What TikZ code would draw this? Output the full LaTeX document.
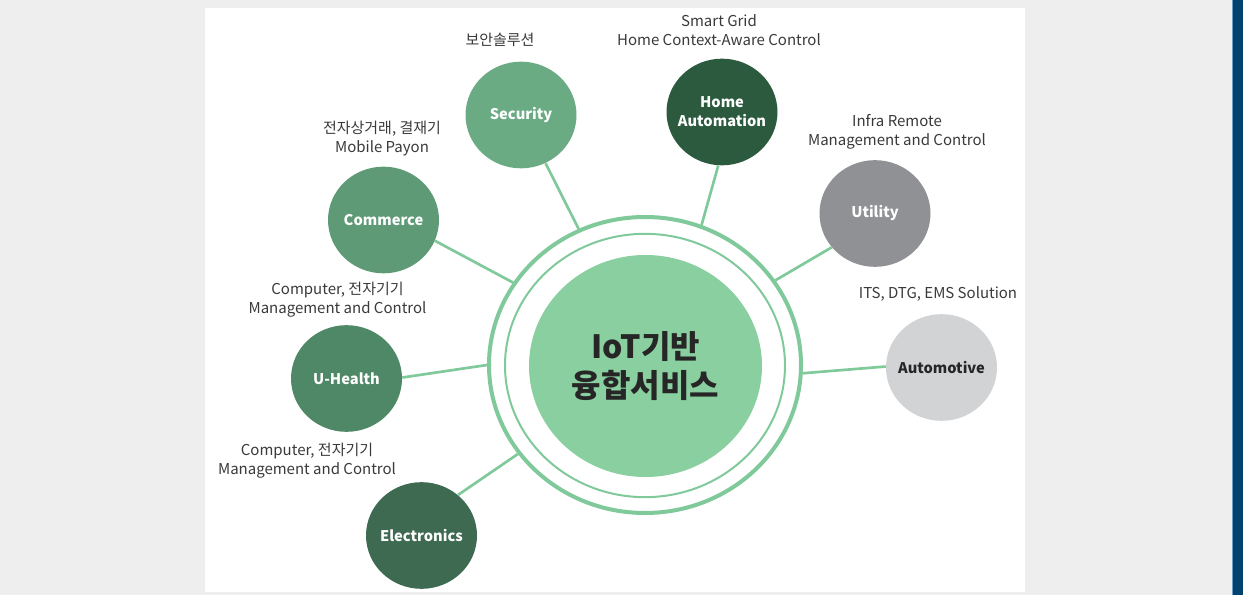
\documentclass[tikz,border=0pt]{standalone}
\usepackage{fontspec}
\setmainfont{Noto Sans CJK KR}
\usetikzlibrary{shapes.geometric}
\definecolor{bgc}{HTML}{EEEEEE}
\definecolor{barc}{HTML}{004170}
\definecolor{barline}{HTML}{6A9CC4}
\definecolor{ringc}{HTML}{80C99B}
\definecolor{corec}{HTML}{8ACF9F}
\definecolor{secc}{HTML}{6AAB84}
\definecolor{homec}{HTML}{2B5A3F}
\definecolor{comc}{HTML}{5F9A76}
\definecolor{healc}{HTML}{4F8866}
\definecolor{elecc}{HTML}{3D6A51}
\definecolor{utilc}{HTML}{8F9194}
\definecolor{autoc}{HTML}{D2D3D4}
\definecolor{txtc}{HTML}{3A3A3A}
\begin{document}
\begin{tikzpicture}[x=0.75pt,y=-0.75pt,
  sat/.style={ellipse, minimum width=83.25pt, minimum height=80pt, inner sep=0pt},
  sattext/.style={text=white, font=\bfseries\fontsize{11}{14.25}\selectfont, align=center, inner sep=0pt},
  lab/.style={text=txtc, font=\fontsize{11.25}{14.25}\selectfont, align=center, inner sep=0pt},
  conn/.style={draw=ringc, line width=2pt}]
\useasboundingbox (0,0) rectangle (1243,595);
\fill[bgc] (0,0) rectangle (1243,595);
\fill[white] (205,8) rectangle (1025,592);
\fill[barc] (1232,0) rectangle (1243,595);
\draw[barline, line width=0.6pt] (1232.4,0) -- (1232.4,595);

% centre
\node[ellipse, draw=ringc, line width=3pt, minimum width=234pt, minimum height=222pt, inner sep=0pt] (ring) at (645,365) {};
\node[ellipse, draw=ringc, line width=1.5pt, minimum width=210pt, minimum height=197.5pt, inner sep=0pt] (ring2) at (645,365.5) {};
\node[ellipse, fill=corec, minimum width=174.75pt, minimum height=166.5pt, inner sep=0pt,
  label={[text=black!85, font=\bfseries\fontsize{24}{29.5}\selectfont, align=center, inner sep=0pt]center:IoT기반\\융합서비스}] (core) at (645.5,366) {};

% satellites
\node[sat, fill=secc, label={[sattext]center:Security}] (sec) at (521,115) {};
\node[sat, fill=homec, label={[sattext]center:Home\\Automation}] (home) at (722,112) {};
\node[sat, fill=comc, label={[sattext]center:Commerce}] (com) at (383.5,220) {};
\node[sat, fill=utilc, label={[sattext]center:Utility}] (util) at (875,213.5) {};
\node[sat, fill=autoc, label={[sattext, text=black!85]center:Automotive}] (auto) at (941.5,367.5) {};
\node[sat, fill=healc, label={[sattext]center:U-Health}] (heal) at (346.5,378.5) {};
\node[sat, fill=elecc, label={[sattext]center:Electronics}] (elec) at (421.5,535.5) {};

% connectors
\draw[conn] (sec.-63) -- (ring.116);
\draw[conn] (home.-94) -- (ring.68);
\draw[conn] (com.-22) -- (ring.148.7);
\draw[conn] (util.218.7) -- (ring.33.6);
\draw[conn] (auto.179.5) -- (ring.-3.6);
\draw[conn] (heal.1) -- (ring.180.4);
\draw[conn] (elec.48) -- (ring.215.6);

% labels
\node[lab] (lsec) at (500,40) {보안솔루션};
\node[lab] (lhome) at (719,30.5) {Smart Grid\\Home Context-Aware Control};
\node[lab] (lcom) at (382,139) {전자상거래, 결재기\\Mobile Payon};
\node[lab] (lutil) at (897,131.5) {Infra Remote\\Management and Control};
\node[lab] (lauto) at (938,294) {ITS, DTG, EMS Solution};
\node[lab] (lheal) at (337.5,299.5) {Computer, 전자기기\\Management and Control};
\node[lab] (lelec) at (307,460.5) {Computer, 전자기기\\Management and Control};
\end{tikzpicture}
\end{document}
